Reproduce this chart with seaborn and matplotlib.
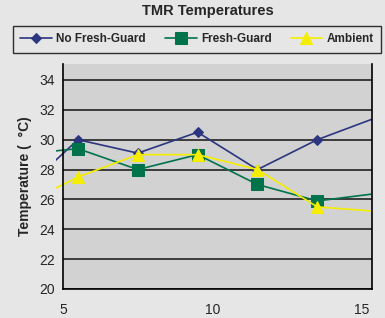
## TMR Temperatures

import matplotlib.pyplot as plt
import matplotlib.patches as mpatches
import seaborn as sns

#----------------------------------------------------
# data (points at 3.5 and 15.5 sit just outside the visible range)
#----------------------------------------------------

days = [3.5, 5.5, 7.5, 9.5, 11.5, 13.5, 15.5]
no_fresh_guard = [26.3, 30.0, 29.1, 30.5, 28.0, 30.0, 31.5]
fresh_guard = [29.0, 29.4, 28.0, 29.0, 27.0, 25.9, 26.4]
ambient = [25.5, 27.5, 29.0, 29.0, 28.0, 25.5, 25.2]

series_names = ["No Fresh-Guard", "Fresh-Guard", "Ambient"]
x_ticks = [5, 10, 15]
y_ticks = [20, 22, 24, 26, 28, 30, 32, 34]

#----------------------------------------------------
# main
#----------------------------------------------------

def main():
    sns.set_style("white")
    plt.rcParams['font.family'] = ['Liberation Sans', 'DejaVu Sans']

    fig = plt.figure(figsize=(3.85, 3.18), dpi=100, facecolor="#e6e6e6")
    ax = fig.add_axes([63/385, 1 - 289/318, (372-63)/385, (289-64)/318])
    ax.set_facecolor("#d2d2d2")

    styles = [
        (no_fresh_guard, "#2b3580", "D", 5),
        (fresh_guard, "#00734a", "s", 9),
        (ambient, "#f5ee00", "^", 8.5),
    ]
    for name, (vals, col, mk, ms) in zip(series_names, styles):
        sns.lineplot(x=days, y=vals, ax=ax, color=col, marker=mk,
                     markersize=ms, markeredgecolor=col, linewidth=1.2,
                     markevery=slice(1, -1), label=name)

    # let lines bleed a bit over the left spine like the original
    clip = mpatches.Rectangle((-0.023, 0), 1.023, 1, transform=ax.transAxes,
                              visible=False)
    ax.add_patch(clip)
    for ln in ax.lines:
        ln.set_clip_path(clip)

    ax.set_xlim(5, 15.33)
    ax.set_ylim(20, 35.07)
    ax.set_xticks(x_ticks)
    ax.set_yticks(y_ticks)
    ax.yaxis.grid(True, color="#222222", linewidth=1.2)
    ax.set_axisbelow(True)

    for s in ["left", "bottom", "right"]:
        ax.spines[s].set_color("black")
        ax.spines[s].set_linewidth(1.2)
    ax.spines["top"].set_visible(False)

    ax.tick_params(axis="both", direction="out", length=4, width=1,
                   color="black", labelsize=10, pad=2)
    ax.tick_params(axis="x", pad=6)

    ax.set_ylabel("Temperature (  \u00b0C)", fontsize=10, fontweight="bold",
                  labelpad=5)
    ax.set_xlabel("")

    fig.text(208/385, 1 - 11/318, "TMR Temperatures", ha="center", va="center",
             fontsize=10.5, fontweight="bold")

    handles, labels = ax.get_legend_handles_labels()
    ax.legend_.remove()
    leg = fig.legend(handles, labels, loc="center",
                     bbox_to_anchor=(197/385, 1 - 39.5/318),
                     ncol=3, frameon=True, fancybox=False,
                     prop={"weight": "bold", "size": 8.5},
                     handlelength=2.7, handletextpad=0.35, borderpad=0.6,
                     borderaxespad=0, columnspacing=1.6)
    leg.get_frame().set_edgecolor("black")
    leg.get_frame().set_facecolor("#e6e6e6")
    leg.get_frame().set_linewidth(1.0)

    fig.savefig("out.png", dpi=100, facecolor=fig.get_facecolor())


if __name__ == '__main__':
    main()
